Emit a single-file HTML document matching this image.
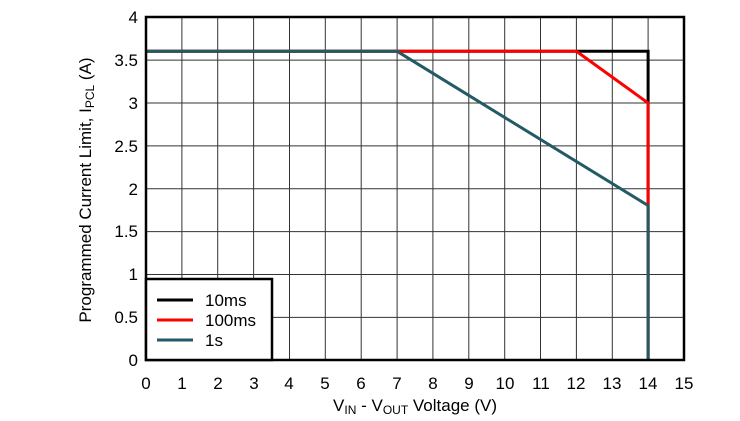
<!DOCTYPE html>
<html><head><style>body{margin:0;background:#fff}svg{display:block}</style></head><body>
<svg width="740" height="421" xmlns="http://www.w3.org/2000/svg" font-family="Liberation Sans, sans-serif">
<rect width="740" height="421" fill="#fff"/>
<g stroke="#333" stroke-width="1">
<line x1="181.9" y1="17" x2="181.9" y2="360"/><line x1="217.7" y1="17" x2="217.7" y2="360"/><line x1="253.6" y1="17" x2="253.6" y2="360"/><line x1="289.5" y1="17" x2="289.5" y2="360"/><line x1="325.3" y1="17" x2="325.3" y2="360"/><line x1="361.2" y1="17" x2="361.2" y2="360"/><line x1="397.1" y1="17" x2="397.1" y2="360"/><line x1="432.9" y1="17" x2="432.9" y2="360"/><line x1="468.8" y1="17" x2="468.8" y2="360"/><line x1="504.7" y1="17" x2="504.7" y2="360"/><line x1="540.5" y1="17" x2="540.5" y2="360"/><line x1="576.4" y1="17" x2="576.4" y2="360"/><line x1="612.3" y1="17" x2="612.3" y2="360"/><line x1="648.1" y1="17" x2="648.1" y2="360"/>
<line x1="146" y1="60.1" x2="684" y2="60.1"/><line x1="146" y1="103" x2="684" y2="103"/><line x1="146" y1="145.9" x2="684" y2="145.9"/><line x1="146" y1="188.8" x2="684" y2="188.8"/><line x1="146" y1="231.6" x2="684" y2="231.6"/><line x1="146" y1="274.5" x2="684" y2="274.5"/><line x1="146" y1="317.4" x2="684" y2="317.4"/>
</g>
<polyline points="146,51.3 648.1,51.3 648.1,360" fill="none" stroke="#000" stroke-width="3"/>
<polyline points="146,51.3 576.4,51.3 648.1,103 648.1,360" fill="none" stroke="#f00" stroke-width="3"/>
<polyline points="146,51.3 397.1,51.3 648.1,205.6 648.1,360" fill="none" stroke="#225a66" stroke-width="3"/>
<rect x="146" y="17" width="538" height="343" fill="none" stroke="#000" stroke-width="2.5"/>
<rect x="146" y="279" width="126" height="81" fill="#fff" stroke="#000" stroke-width="2.5"/>
<line x1="157" y1="300" x2="193" y2="300" stroke="#000" stroke-width="3"/>
<line x1="157" y1="320" x2="193" y2="320" stroke="#f00" stroke-width="3"/>
<line x1="157" y1="340" x2="193" y2="340" stroke="#225a66" stroke-width="3"/>
<g font-size="17" fill="#000"><text x="205" y="306">10ms</text><text x="205" y="326">100ms</text><text x="205" y="346">1s</text></g>
<g font-size="17" text-anchor="end">
<text x="138" y="366">0</text><text x="138" y="323">0.5</text><text x="138" y="280">1</text><text x="138" y="237">1.5</text><text x="138" y="195">2</text><text x="138" y="152">2.5</text><text x="138" y="109">3</text><text x="138" y="66">3.5</text><text x="138" y="23">4</text>
</g>
<g font-size="17" text-anchor="middle">
<text x="146" y="389">0</text><text x="182" y="389">1</text><text x="218" y="389">2</text><text x="254" y="389">3</text><text x="289" y="389">4</text><text x="325" y="389">5</text><text x="361" y="389">6</text><text x="397" y="389">7</text><text x="433" y="389">8</text><text x="469" y="389">9</text><text x="505" y="389">10</text><text x="541" y="389">11</text><text x="576" y="389">12</text><text x="612" y="389">13</text><text x="648" y="389">14</text><text x="684" y="389">15</text>
</g>
<text x="415" y="411" font-size="17" text-anchor="middle">V<tspan font-size="12" dy="3">IN</tspan><tspan dy="-3"> - V</tspan><tspan font-size="12" dy="3">OUT</tspan><tspan dy="-3"> Voltage (V)</tspan></text>
<text transform="translate(91,190) rotate(-90)" font-size="17" text-anchor="middle">Programmed Current Limit, I<tspan font-size="12" dy="3">PCL</tspan><tspan dy="-3"> (A)</tspan></text>
</svg>
</body></html>
